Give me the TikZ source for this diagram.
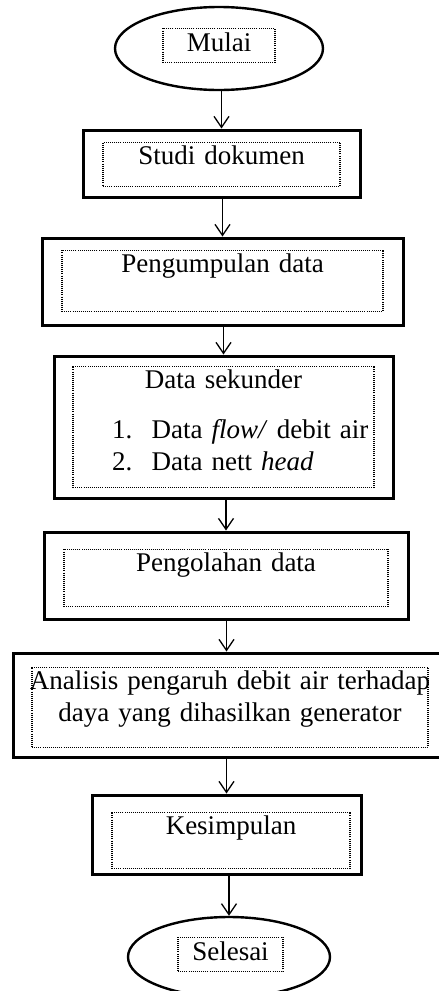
\documentclass[tikz,border=0pt]{standalone}
\usepackage{fontspec}
\setmainfont{Liberation Serif}
\usetikzlibrary{arrows.meta,positioning,shapes.geometric}
\newcommand{\flowfont}{\fontsize{27pt}{31.5pt}\selectfont}
\tikzset{
  procbox/.style={draw, line width=3pt, inner sep=0pt},
  termbox/.style={draw, ellipse, line width=2.4pt, inner sep=0pt},
  txtbox/.style={draw, line width=1.1pt, dash pattern=on 1pt off 1.1pt,
    inner xsep=0pt, inner ysep=4pt, align=center, font=\flowfont},
  arr/.style={-{Straight Barb[length=11pt, width=15pt]}, line width=1.3pt}
}
\begin{document}
\begin{tikzpicture}[x=1pt, y=1pt]
    \useasboundingbox (0,0) rectangle (439,-991);
    % outer shapes
    \node[termbox, minimum width=208pt, minimum height=83pt] (mulai) at (219,-48.5) {};
    \node[procbox, minimum width=277pt, minimum height=67pt] (studi) at (221.5,-163.5) {};
    \node[procbox, minimum width=361pt, minimum height=87pt] (kumpul) at (222.5,-281.5) {};
    \node[procbox, minimum width=339pt, minimum height=142pt] (sekunder) at (223.5,-427) {};
    \node[procbox, minimum width=364pt, minimum height=87pt] (olah) at (226,-575.5) {};
    \node[procbox, minimum width=427pt, minimum height=104pt] (analisis) at (226.5,-705) {};
    \node[procbox, minimum width=269pt, minimum height=79pt] (simpul) at (226.5,-834.5) {};
    \node[termbox, minimum width=202pt, minimum height=80pt] (selesai) at (229,-957) {};
    % text boxes
    \node[txtbox, text width=112pt, text depth=7.5pt, below=22pt of mulai.north] (mulaiTxt) {Mulai};
    \node[txtbox, text width=237pt, text depth=17.5pt, below=13pt of studi.north] (studiTxt) {Studi dokumen};
    \node[txtbox, text width=321pt, text depth=34.5pt, below=13pt of kumpul.north] (kumpulTxt) {Pengumpulan data};
    \node[txtbox, text width=301pt, text depth=94.5pt, align=left, below=11pt of sekunder.north] (sekunderTxt)
      {\makebox[\linewidth]{Data sekunder}\\[18.5pt]
       \hspace*{39pt}1.\hspace*{19.5pt}Data \textit{flow/} debit air\\
       \hspace*{39pt}2.\hspace*{19.5pt}Data nett \textit{head}};
    \node[txtbox, text width=324pt, text depth=30.5pt, below=18pt of olah.north] (olahTxt) {Pengolahan data};
    \node[txtbox, text width=396pt, text depth=53.5pt, below=15pt of analisis.north, xshift=3.5pt] (analisisTxt)
      {\makebox[\linewidth]{Analisis pengaruh debit air terhadap}\\daya yang dihasilkan generator};
    \node[txtbox, text width=238pt, text depth=29.5pt, below=18pt of simpul.north, xshift=4.5pt] (simpulTxt) {Kesimpulan};
    \node[txtbox, text width=105pt, text depth=7.5pt, below=21pt of selesai.north, xshift=1.5pt] (selesaiTxt) {Selesai};
    % arrows
    \draw[arr] (mulai.south -| studi.north) -- (studi.north);
    \draw[arr] (studi.south -| kumpul.north) -- (kumpul.north);
    \draw[arr] (kumpul.south -| sekunder.north) -- (sekunder.north);
    \draw[arr] (sekunder.south -| olah.north) -- (olah.north);
    \draw[arr] (olah.south -| analisis.north) -- (analisis.north);
    \draw[arr] (analisis.south -| simpul.north) -- (simpul.north);
    \draw[arr] (simpul.south -| selesai.north) -- (selesai.north);
\end{tikzpicture}
\end{document}
